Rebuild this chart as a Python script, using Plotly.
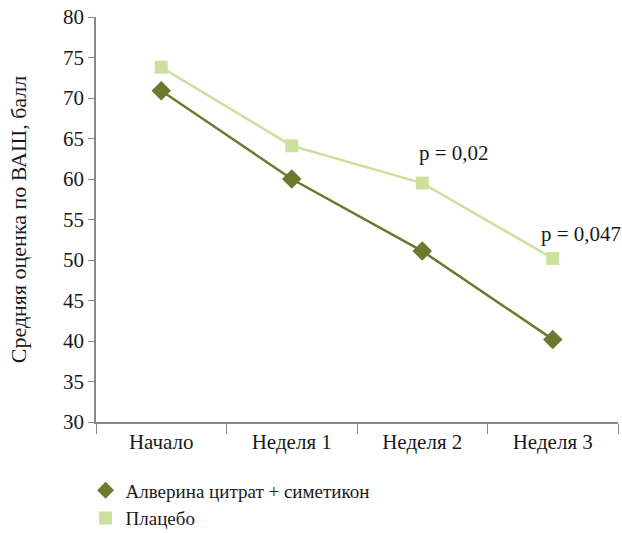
import plotly.graph_objects as go

categories = ["Начало", "Неделя 1", "Неделя 2", "Неделя 3"]
alverine = [70.9, 60.0, 51.1, 40.2]
placebo = [73.8, 64.1, 59.5, 50.2]
series_names = ["Алверина цитрат + симетикон", "Плацебо"]
p_labels = ["p = 0,02", "p = 0,047"]
p_idx = [2, 3]
p_shift = [(-5, 30), (-14, 24)]

dark = "#6b7a2f"
light = "#cbe19c"
font_family = "'Liberation Serif', 'DejaVu Serif', serif"
fs = 21

fig = go.Figure()
fig.add_trace(go.Scatter(
    x=categories, y=alverine, name=series_names[0], mode="lines+markers",
    line=dict(color=dark, width=2.5), showlegend=False,
    marker=dict(symbol="diamond", size=15, color=dark),
))
fig.add_trace(go.Scatter(
    x=categories, y=placebo, name=series_names[1], mode="lines+markers",
    line=dict(color=light, width=2.5), showlegend=False,
    marker=dict(symbol="square", size=13, color=light),
))
fig.add_trace(go.Scatter(
    x=[None], y=[None], name=series_names[0], mode="markers",
    marker=dict(symbol="diamond", size=13, color=dark),
))
fig.add_trace(go.Scatter(
    x=[None], y=[None], name=series_names[1], mode="markers",
    marker=dict(symbol="square", size=13, color=light),
))

for lbl, i, (dx, dy) in zip(p_labels, p_idx, p_shift):
    fig.add_annotation(x=categories[i], y=placebo[i], text=lbl, showarrow=False,
                       xanchor="left", xshift=dx, yshift=dy,
                       font=dict(family=font_family, size=fs, color="#1a1a1a"))

fig.update_layout(
    width=622, height=533,
    margin=dict(l=96, r=4, t=17, b=111, autoexpand=False),
    plot_bgcolor="white", paper_bgcolor="white",
    font=dict(family=font_family, size=fs, color="#1a1a1a"),
    showlegend=True,
    legend=dict(orientation="v", x=-0.02, xanchor="left", y=-0.122, yanchor="top",
                font=dict(family=font_family, size=19), tracegroupgap=0,
                itemwidth=30),
)
fig.update_xaxes(
    type="category", range=[-0.5, 3.5], showline=True, linecolor="#888888", linewidth=1.5,
    ticks="outside", tickson="boundaries", ticklen=10, tickcolor="#888888",
    showgrid=False, zeroline=False, tickfont=dict(size=fs), automargin=False,
)
fig.update_yaxes(
    range=[30, 80], dtick=5, showline=True, linecolor="#888888", linewidth=1.5,
    ticks="outside", ticklen=6, tickcolor="#888888", showgrid=False, zeroline=False,
    title=dict(text="Средняя оценка по ВАШ, балл", font=dict(size=22), standoff=30),
    tickfont=dict(size=fs), automargin=False,
)

fig.write_html("out.html", post_script="document.body.style.margin='0';",
               config={"displayModeBar": False})
